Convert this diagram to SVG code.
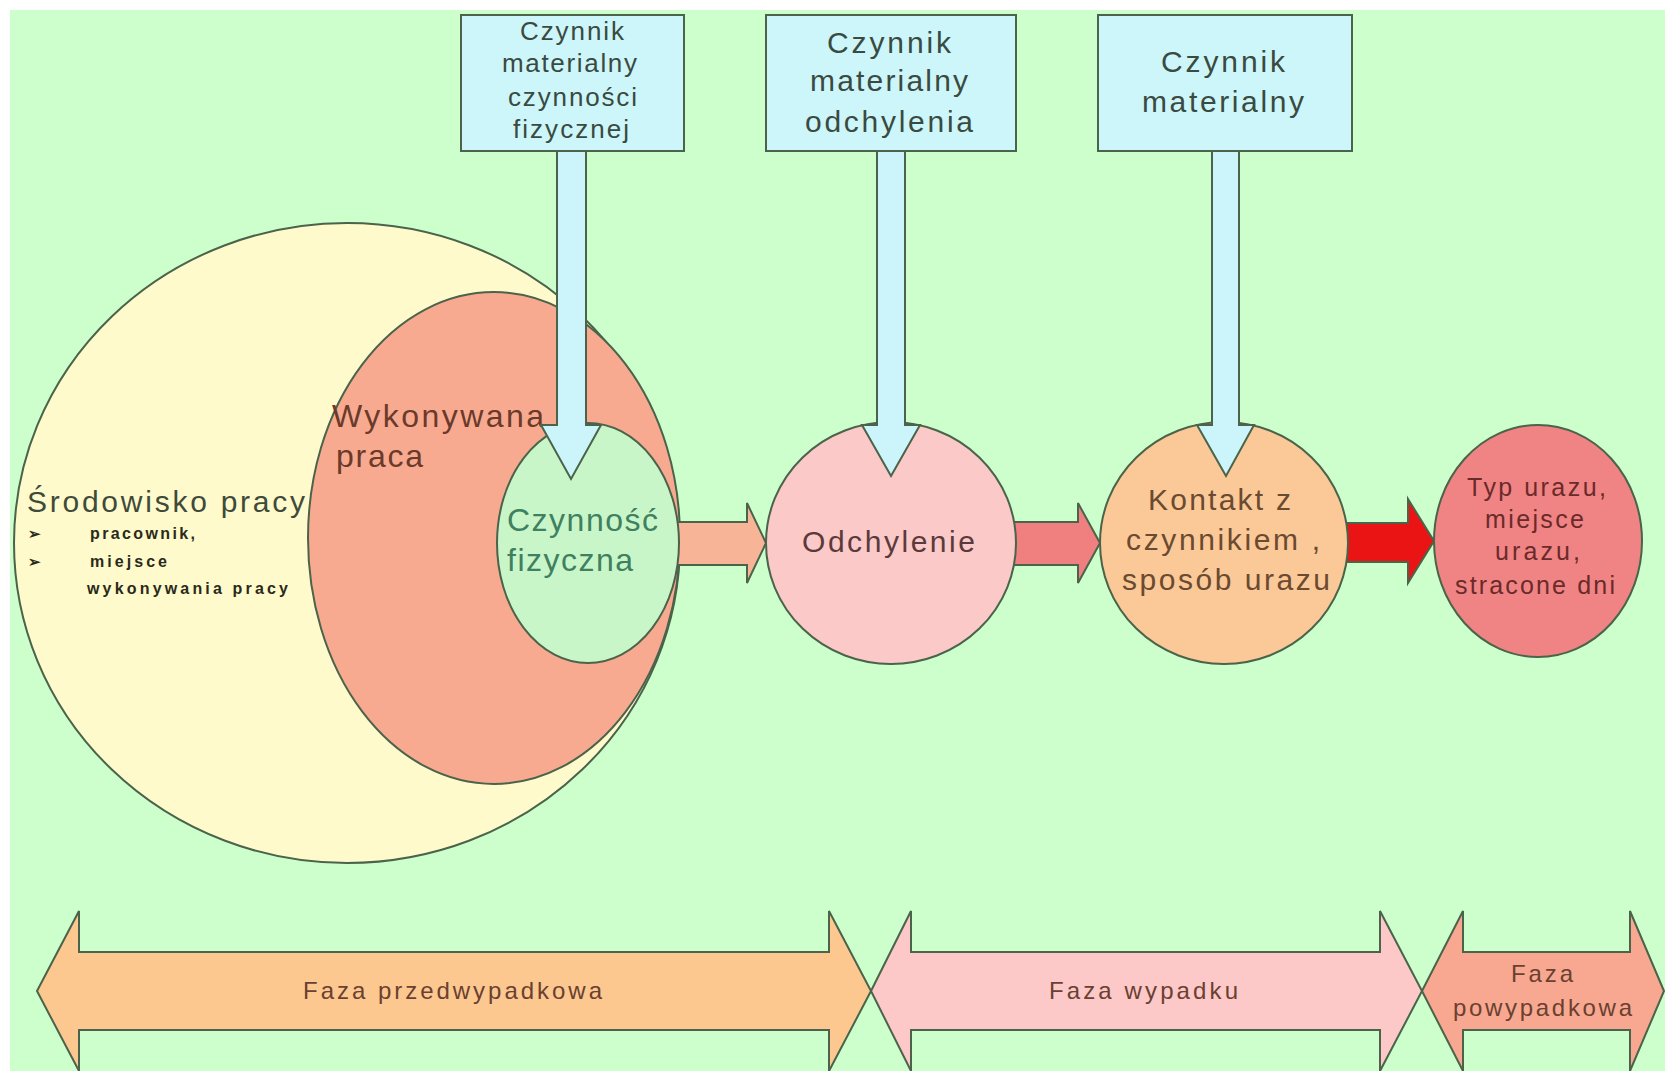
<svg xmlns="http://www.w3.org/2000/svg" width="1665" height="1071" viewBox="0 0 1665 1071">
<defs>
<style>
.ln{stroke:#4a634a;stroke-width:2;}
.t{font-family:"Liberation Sans",Arial,sans-serif;}
.bx{fill:#ccf6fa;}
.va{fill:#ccf4fb;}
</style>
</defs>
<rect x="0" y="0" width="1665" height="1071" fill="#ffffff"/>
<rect x="10" y="10" width="1655" height="1061" fill="#ccffcc"/>

<g id="node-srodowisko">
<ellipse cx="347" cy="543" rx="333" ry="320" fill="#fffacc" class="ln"/>
<text class="t" x="27" y="512" font-size="30" fill="#3f4a3a" textLength="278" lengthAdjust="spacing">Środowisko pracy</text>
<text class="t" x="28" y="539" font-size="15" font-weight="bold" fill="#2a2a1a">➢</text>
<text class="t" x="90" y="539" font-size="16" font-weight="bold" fill="#2a2a1a" textLength="105" lengthAdjust="spacing">pracownik,</text>
<text class="t" x="28" y="567" font-size="15" font-weight="bold" fill="#2a2a1a">➢</text>
<text class="t" x="90" y="567" font-size="16" font-weight="bold" fill="#2a2a1a" textLength="77" lengthAdjust="spacing">miejsce</text>
<text class="t" x="87" y="594" font-size="16" font-weight="bold" fill="#2a2a1a" textLength="201" lengthAdjust="spacing">wykonywania pracy</text>
</g>

<g id="node-praca">
<ellipse cx="494" cy="538" rx="186" ry="246" fill="#f8aa90" class="ln"/>
<text class="t" x="332" y="427" font-size="32" fill="#6a3a2a" textLength="212" lengthAdjust="spacing">Wykonywana</text>
<text class="t" x="336" y="467" font-size="32" fill="#6a3a2a" textLength="87" lengthAdjust="spacing">praca</text>
</g>

<g id="connectors">
<polygon class="ln" fill="#f8b496" points="660,522 747,522 747,503 766,543 747,583 747,565 660,565"/>
<polygon class="ln" fill="#f08080" points="1010,522 1078,522 1078,503 1100,543 1078,583 1078,565 1010,565"/>
<polygon class="ln" fill="#ea1414" points="1340,523 1408,523 1408,499 1434,541 1408,583 1408,562 1340,562"/>
</g>

<g id="node-czynnosc">
<ellipse cx="588" cy="543" rx="91" ry="120" fill="#c9f6c9" class="ln"/>
<text class="t" x="507" y="531" font-size="32" fill="#3f8060" textLength="151" lengthAdjust="spacing">Czynność</text>
<text class="t" x="507" y="571" font-size="32" fill="#3f8060" textLength="126" lengthAdjust="spacing">fizyczna</text>
</g>

<g id="node-odchylenie">
<ellipse cx="891" cy="543" rx="125" ry="121" fill="#fbc9c8" class="ln"/>
<text class="t" x="802" y="552" font-size="30" fill="#5a3a3a" textLength="173" lengthAdjust="spacing">Odchylenie</text>
</g>

<g id="node-kontakt">
<ellipse cx="1224" cy="543" rx="124" ry="121" fill="#fbc897" class="ln"/>
<text class="t" x="1148" y="510" font-size="30" fill="#6a4a30" textLength="143" lengthAdjust="spacing">Kontakt z</text>
<text class="t" x="1126" y="550" font-size="30" fill="#6a4a30" textLength="194" lengthAdjust="spacing">czynnikiem ,</text>
<text class="t" x="1122" y="590" font-size="30" fill="#6a4a30" textLength="208" lengthAdjust="spacing">sposób urazu</text>
</g>

<g id="node-typ">
<ellipse cx="1538" cy="541" rx="104" ry="116" fill="#f08484" class="ln"/>
<text class="t" x="1467" y="496" font-size="25" fill="#6a2a2a" textLength="139" lengthAdjust="spacing">Typ urazu,</text>
<text class="t" x="1485" y="528" font-size="25" fill="#6a2a2a" textLength="99" lengthAdjust="spacing">miejsce</text>
<text class="t" x="1495" y="560" font-size="25" fill="#6a2a2a" textLength="85" lengthAdjust="spacing">urazu,</text>
<text class="t" x="1455" y="594" font-size="25" fill="#6a2a2a" textLength="160" lengthAdjust="spacing">stracone dni</text>
</g>

<g id="node-box1">
<rect x="461" y="15" width="223" height="136" class="bx ln"/>
<text class="t" x="520" y="40" font-size="26" fill="#3a4a40" textLength="104" lengthAdjust="spacing">Czynnik</text>
<text class="t" x="502" y="72" font-size="26" fill="#3a4a40" textLength="135" lengthAdjust="spacing">materialny</text>
<text class="t" x="508" y="106" font-size="26" fill="#3a4a40" textLength="129" lengthAdjust="spacing">czynności</text>
<text class="t" x="513" y="138" font-size="26" fill="#3a4a40" textLength="116" lengthAdjust="spacing">fizycznej</text>
</g>

<g id="node-box2">
<rect x="766" y="15" width="250" height="136" class="bx ln"/>
<text class="t" x="827" y="53" font-size="30" fill="#3a4a40" textLength="124" lengthAdjust="spacing">Czynnik</text>
<text class="t" x="810" y="91" font-size="30" fill="#3a4a40" textLength="158" lengthAdjust="spacing">materialny</text>
<text class="t" x="805" y="132" font-size="30" fill="#3a4a40" textLength="168" lengthAdjust="spacing">odchylenia</text>
</g>

<g id="node-box3">
<rect x="1098" y="15" width="254" height="136" class="bx ln"/>
<text class="t" x="1161" y="72" font-size="30" fill="#3a4a40" textLength="124" lengthAdjust="spacing">Czynnik</text>
<text class="t" x="1142" y="112" font-size="30" fill="#3a4a40" textLength="162" lengthAdjust="spacing">materialny</text>
</g>

<g id="connectors-vertical">
<polygon class="va ln" points="557,151 586,151 586,425 601,425 571,479 541,425 557,425"/>
<polygon class="va ln" points="877,151 905,151 905,425 920,425 891,476 862,425 877,425"/>
<polygon class="va ln" points="1212,151 1239,151 1239,425 1254,425 1226,476 1197,425 1212,425"/>
</g>

<g id="phase-przed">
<polygon class="ln" fill="#fcc890" points="37,991 79,911 79,952 829,952 829,911 871,991 829,1071 829,1030 79,1030 79,1071"/>
<text class="t" x="303" y="999" font-size="24" fill="#6a4030" textLength="299" lengthAdjust="spacing">Faza przedwypadkowa</text>
</g>

<g id="phase-wypadek">
<polygon class="ln" fill="#fcc8c8" points="871,991 911,911 911,952 1380,952 1380,911 1422,991 1380,1071 1380,1030 911,1030 911,1071"/>
<text class="t" x="1049" y="999" font-size="24" fill="#6a4030" textLength="189" lengthAdjust="spacing">Faza wypadku</text>
</g>

<g id="phase-po">
<polygon class="ln" fill="#f8a890" points="1422,991 1463,911 1463,952 1630,952 1630,911 1664,991 1630,1071 1630,1030 1463,1030 1463,1071"/>
<text class="t" x="1511" y="982" font-size="24" fill="#6a4030" textLength="62" lengthAdjust="spacing">Faza</text>
<text class="t" x="1453" y="1016" font-size="24" fill="#6a4030" textLength="179" lengthAdjust="spacing">powypadkowa</text>
</g>
</svg>
